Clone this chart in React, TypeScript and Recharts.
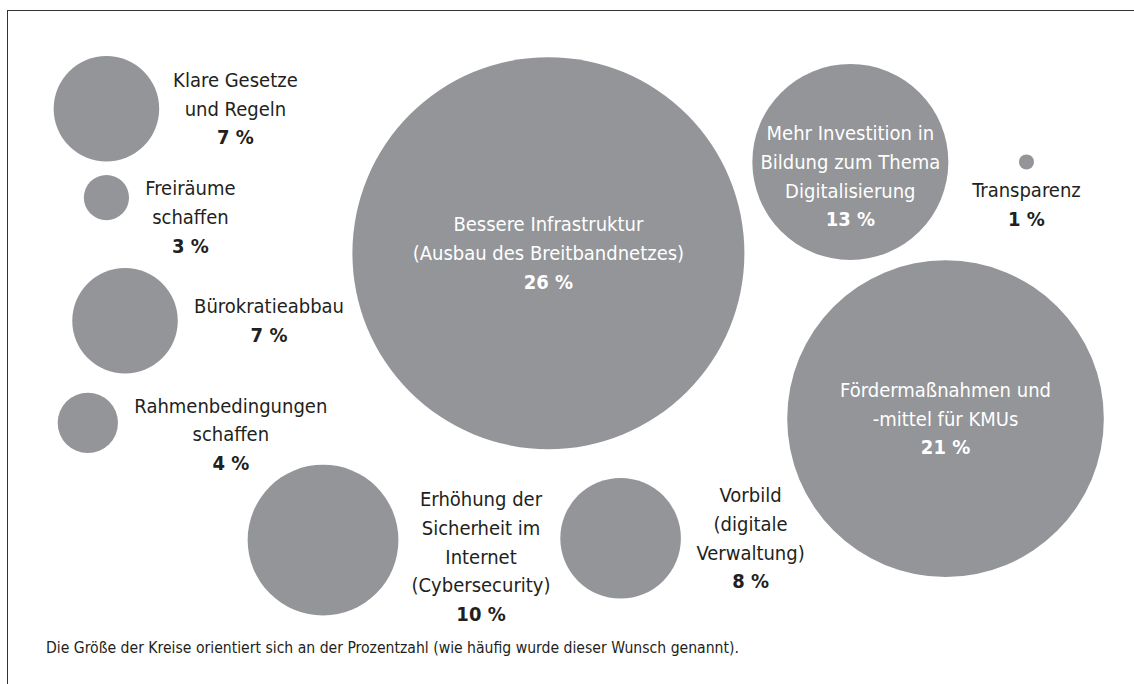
import { Scatter, ScatterChart, XAxis, YAxis, ZAxis } from "recharts";

const categories = [
  ["Klare Gesetze", "und Regeln"],
  ["Freiräume", "schaffen"],
  ["Bürokratieabbau"],
  ["Rahmenbedingungen", "schaffen"],
  ["Erhöhung der", "Sicherheit im", "Internet", "(Cybersecurity)"],
  ["Bessere Infrastruktur", "(Ausbau des Breitbandnetzes)"],
  ["Vorbild", "(digitale", "Verwaltung)"],
  ["Mehr Investition in", "Bildung zum Thema", "Digitalisierung"],
  ["Transparenz"],
  ["Fördermaßnahmen und", "-mittel für KMUs"],
];
const shares = [7, 3, 7, 4, 10, 26, 8, 13, 1, 21];
// bubble centres on a free 0-100 grid (no real axes in this chart)
const posX = [7.9, 7.9, 9.6, 6.2, 27.7, 48.3, 54.9, 75.9, 92.0, 84.6];
const posY = [85.3, 70.6, 50.2, 33.3, 13.9, 61.4, 14.2, 76.5, 76.5, 34.0];

const note =
  "Die Größe der Kreise orientiert sich an der Prozentzahl (wie häufig wurde dieser Wunsch genannt).";

// where the text block sits relative to the bubble centre (px)
const labelPlace = [
  { dx: 129, dy: 0, inside: false },
  { dx: 84, dy: 19.5, inside: false },
  { dx: 144, dy: 0, inside: false },
  { dx: 143, dy: 11.5, inside: false },
  { dx: 158, dy: 16.5, inside: false },
  { dx: 0, dy: 0, inside: true },
  { dx: 130, dy: 0, inside: false },
  { dx: 0, dy: 14.5, inside: true },
  { dx: 0, dy: 42.5, inside: false },
  { dx: 0, dy: 0, inside: true },
];

const data = categories.map((lines, i) => ({
  lines,
  share: shares[i],
  x: posX[i],
  y: posY[i],
  area: shares[i] * shares[i], // radius grows with the percentage
}));

const maxArea = Math.max(...data.map((d) => d.area));
const MAX_R = 196;
const FONT = "'Liberation Sans Narrow', 'DejaVu Sans Condensed', 'Arial Narrow', sans-serif";
const GREY = "#939598";
const INK = "#231f20";
const LINE_H = 28.7;

function Bubble(props: any) {
  const { cx, cy, payload, index } = props;
  const size = props.size ?? 0;
  const r = props.width ? props.width / 2 : Math.sqrt(size / Math.PI);
  const place = labelPlace[index] ?? { dx: 0, dy: 0, inside: true };
  const rows = [...payload.lines, `${payload.share} %`];
  const top = cy + place.dy - ((rows.length - 1) * LINE_H) / 2;
  const color = place.inside ? "#ffffff" : INK;
  return (
    <g>
      <circle cx={cx} cy={cy} r={r} fill={GREY} />
      {rows.map((t, k) => (
        <text
          key={k}
          x={cx + place.dx}
          y={top + k * LINE_H}
          textAnchor="middle"
          dominantBaseline="central"
          fontFamily={FONT}
          fontSize={20}
          fontWeight={k === rows.length - 1 ? 700 : 400}
          fill={color}
        >
          {t}
        </text>
      ))}
    </g>
  );
}

export default function App() {
  return (
    <div style={{ position: "absolute", left: 0, top: 0, width: 1134, height: 684, background: "#fff", fontFamily: FONT }}>
      <style>{`body{margin:0;overflow:hidden}`}</style>
      <div
        style={{
          position: "absolute",
          left: 7,
          top: 10,
          width: 1140,
          height: 690,
          borderLeft: "1.5px solid #333",
          borderTop: "1.5px solid #333",
        }}
      />
      <div style={{ position: "absolute", left: 0, top: 0 }}>
        <ScatterChart width={1134} height={684} margin={{ top: 20, right: 20, bottom: 60, left: 20 }}>
          <XAxis type="number" dataKey="x" domain={[0, 100]} hide />
          <YAxis type="number" dataKey="y" domain={[0, 100]} hide />
          <ZAxis type="number" dataKey="area" domain={[0, maxArea]} range={[0, Math.PI * MAX_R * MAX_R]} />
          <Scatter data={data} shape={<Bubble />} isAnimationActive={false} />
        </ScatterChart>
      </div>
      <div
        style={{
          position: "absolute",
          left: 46,
          top: 639,
          fontSize: 15.6,
          color: INK,
          whiteSpace: "nowrap",
        }}
      >
        {note}
      </div>
    </div>
  );
}
